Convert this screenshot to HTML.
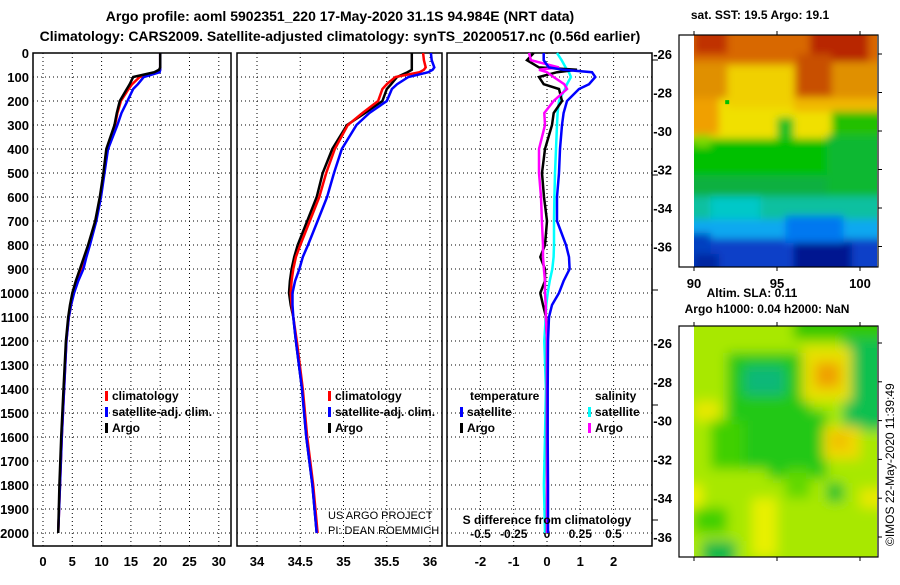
<!DOCTYPE html>
<html><head><meta charset="utf-8"><style>
body{margin:0;background:#fff;width:900px;height:580px;overflow:hidden;font-family:"Liberation Sans",sans-serif}
svg text{font-family:"Liberation Sans",sans-serif;font-weight:bold;font-size:12px}
</style></head><body>
<svg id="c" width="900" height="580" xmlns="http://www.w3.org/2000/svg">
<defs>
<filter id="bl" x="-20%" y="-20%" width="140%" height="140%"><feGaussianBlur stdDeviation="4"/></filter>
<filter id="bl2" x="-20%" y="-20%" width="140%" height="140%"><feGaussianBlur stdDeviation="6"/></filter>
<clipPath id="cm1"><rect x="694" y="35" width="183" height="232"/></clipPath>
<clipPath id="cm2"><rect x="694" y="326" width="183" height="231"/></clipPath>
</defs>
<text x="340" y="21" text-anchor="middle" style="font-size:14px">Argo profile: aoml 5902351_220 17-May-2020 31.1S 94.984E (NRT data)</text>
<text x="340" y="41" text-anchor="middle" style="font-size:14px">Climatology: CARS2009. Satellite-adjusted climatology: synTS_20200517.nc (0.56d earlier)</text>
<g id="g"></g>
</svg>
<script>
// depth levels (m)
const depths=[0,30,60,70,80,100,130,150,200,250,300,400,500,600,700,800,850,900,950,1000,1050,1100,1200,1400,1600,1800,2000];
// temperature (degC)
const tempArgo=[20,20,20,19.8,19,15.4,14.8,14.3,13.1,12.6,12.2,10.8,10.3,9.7,8.9,7.7,7.0,6.3,5.6,5.0,4.6,4.3,3.9,3.5,3.1,2.8,2.6];
const tempClim=[20,20,20,20,19.5,16.5,15.2,14.6,13.3,12.7,12.3,11.0,10.4,9.8,9.0,7.9,7.2,6.6,5.9,5.2,4.8,4.4,4.0,3.6,3.2,2.9,2.6];
const tempSat=[20,20,20,20,19.9,17.2,16.2,15.4,14.4,13.4,12.7,11.1,10.5,9.9,9.1,8.0,7.4,6.9,6.0,5.3,4.8,4.4,4.0,3.6,3.2,2.9,2.6];
// salinity (PSU)
const salArgo=[35.79,35.79,35.79,35.79,35.74,35.62,35.55,35.5,35.45,35.25,35.04,34.87,34.76,34.69,34.58,34.47,34.43,34.40,34.38,34.37,34.39,34.42,34.45,34.52,34.57,34.64,34.69];
const salClim=[35.92,35.93,35.95,35.93,35.88,35.6,35.5,35.45,35.4,35.22,35.05,34.9,34.8,34.72,34.61,34.5,34.45,34.42,34.40,34.39,34.40,34.42,34.46,34.53,34.58,34.65,34.70];
const salSat=[36.01,36.02,36.05,36.03,35.98,35.75,35.62,35.56,35.5,35.3,35.15,34.98,34.89,34.81,34.7,34.59,34.53,34.49,34.44,34.41,34.41,34.42,34.45,34.52,34.57,34.64,34.69];
// differences from climatology
const dTsat=[-0.1,-0.1,0.05,0.5,1.35,1.45,1.26,0.96,0.6,0.5,0.45,0.39,0.36,0.3,0.3,0.57,0.66,0.68,0.5,0.36,0.15,0.06,0.03,0.02,0.02,0.03,0.03];
const dTargo=[-0.4,-0.6,-0.24,0.9,0.3,-0.24,-0.1,0.36,0.45,0.2,0.15,-0.06,-0.15,-0.09,0,-0.06,-0.2,-0.06,-0.06,-0.2,-0.12,-0.03,0,0,0,0,0];
const dSsat=[0.075,0.11,0.14,0.15,0.165,0.18,0.15,0.135,0.09,0.08,0.075,0.068,0.06,0.056,0.053,0.053,0.05,0.04,0.02,0.005,-0.005,-0.01,-0.02,-0.008,-0.015,-0.023,-0.015];
const dSargo=[-0.135,-0.12,0.09,-0.06,0.0,0.05,0.13,0.15,0.05,-0.02,-0.015,-0.06,-0.06,-0.045,-0.038,-0.03,-0.03,-0.023,-0.015,-0.015,-0.01,-0.008,0,0,0,0,0];
const depthTicks=[0,100,200,300,400,500,600,700,800,900,1000,1100,1200,1300,1400,1500,1600,1700,1800,1900,2000];
const tTicks=[0,5,10,15,20,25,30];
const sTicks=[34,34.5,35,35.5,36];
const dTTicks=[-2,-1,0,1,2];
const dSTicks=[-0.5,-0.25,0,0.25,0.5];

const NS='http://www.w3.org/2000/svg';
const G=document.getElementById('g');
function mk(t,a,p){const e=document.createElementNS(NS,t);for(const k in a)e.setAttribute(k,a[k]);(p||G).appendChild(e);return e;}
const Y=d=>53+d*0.24;
const X1=v=>43+v*5.86, X2=v=>257+(v-34)*86.5, X3=v=>547+v*33.3, X3s=v=>547+v*133;
const panels=[[33,231],[237,442],[447,652]];
panels.forEach((p,i)=>{
  const ticksX=i==0?tTicks.map(X1):i==1?sTicks.map(X2):dTTicks.map(X3);
  depthTicks.forEach(d=>{if(d>0){const l=mk('line',{x1:p[0],x2:p[1],y1:Y(d),y2:Y(d),stroke:'#000','stroke-dasharray':'1,3','stroke-width':1});
  
  }});
  ticksX.forEach(x=>{const l=mk('line',{x1:x,x2:x,y1:53,y2:546,stroke:'#000','stroke-dasharray':'1,3'});
  
  });
  const r=mk('rect',{x:p[0],y:53,width:p[1]-p[0],height:493,fill:'none',stroke:'#000','stroke-width':1.5});
  
  
});
depthTicks.forEach(d=>{const t=mk('text',{x:29,y:Y(d)+5,'text-anchor':'end',style:'font-size:13px'});t.textContent=d;

});
function xl(arr,f){arr.forEach(v=>{const t=mk('text',{x:f(v),y:566,'text-anchor':'middle',style:'font-size:13px'});t.textContent=v;

});}
xl(tTicks,X1);xl(sTicks,X2);xl(dTTicks,X3);
dSTicks.forEach(v=>{const t=mk('text',{x:X3s(v),y:538,'text-anchor':'middle'});t.textContent=v;

});
[60,175,290,405,520].forEach(y=>mk('line',{x1:652,x2:658,y1:y,y2:y,stroke:'#000'}));
function line(vals,f,col,name){const pts=vals.map((v,i)=>f(v).toFixed(1)+','+Y(depths[i]).toFixed(1)).join(' ');
const l=mk('polyline',{points:pts,fill:'none',stroke:col,'stroke-width':2.5});

}
line(tempClim,X1,'#f00','temp-climatology-line');line(tempSat,X1,'#00f','temp-satellite-line');line(tempArgo,X1,'#000','temp-argo-line');
line(salArgo,X2,'#000','sal-argo-line');line(salClim,X2,'#f00','sal-climatology-line');line(salSat,X2,'#00f','sal-satellite-line');
line(dSsat,X3s,'#0ff','sdiff-satellite-line');line(dTargo,X3,'#000','tdiff-argo-line');line(dSargo,X3s,'#f0f','sdiff-argo-line');line(dTsat,X3,'#00f','tdiff-satellite-line');
function leg(x,y,col,txt,name){const r=mk('rect',{x:x,y:y-9,width:3,height:10,fill:col});


const t=mk('text',{x:x+7,y:y});t.textContent=txt;

}
[[105],[328]].forEach(([x])=>{leg(x,400,'#f00','climatology','legend-climatology');leg(x,416,'#00f','satellite-adj. clim.','legend-satellite');leg(x,432,'#000','Argo','legend-argo');});
let t=mk('text',{x:470,y:400});t.textContent='temperature';
t=mk('text',{x:595,y:400});t.textContent='salinity';
leg(460,416,'#00f','satellite','legend-t-satellite');leg(460,432,'#000','Argo','legend-t-argo');
leg(588,416,'#0ff','satellite','legend-s-satellite');leg(588,432,'#f0f','Argo','legend-s-argo');
t=mk('text',{x:547,y:524,'text-anchor':'middle'});t.textContent='S difference from climatology';
t=mk('text',{x:328,y:519,style:'font-weight:normal;font-size:11px'});t.textContent='US ARGO PROJECT';
t=mk('text',{x:328,y:534,style:'font-weight:normal;font-size:11px'});t.textContent='PI: DEAN ROEMMICH';

// maps
const LX=lon=>694+(lon-90)*16.6;
const LY1=lat=>54+(-26-lat)*19.25, LY2=lat=>343+(-26-lat)*19.4;
function blobs(list,LY,clip,filt){const gg=mk('g',{'clip-path':'url(#'+clip+')'});const inner=mk('g',{filter:'url(#'+filt+')'},gg);
list.forEach(b=>mk('rect',{x:LX(b[0]),y:LY(b[3]),width:LX(b[1])-LX(b[0]),height:LY(b[2])-LY(b[3]),fill:b[4]},inner));return gg;}
const sst=[[88,102,-38,-24,'#0a40c8'],[88,102,-35.6,-24,'#10a8f0'],[88,102,-34.6,-24,'#10c0a0'],[88,102,-33.4,-24,'#10b040'],[88,102,-32.3,-24,'#00c000'],
[88,102,-30.4,-24,'#f0e000'],[96,102,-29.0,-24,'#f0b800'],[88,91.5,-30.2,-24,'#f0a000'],[88,102,-28.3,-24,'#e09000'],[92,96,-28.8,-26.6,'#f0d000'],
[88,102,-26.4,-24,'#d86800'],[90,92,-26,-24,'#c03000'],[97,100.5,-26.4,-24,'#b82800'],[96.2,98.3,-28.2,-26,'#c85000'],
[98.3,102,-30.2,-29.0,'#20c000'],[98.0,102,-33.4,-30.2,'#10b830'],[95,96,-30.4,-29.3,'#20c020'],[90,91,-30.8,-30.2,'#80d800'],
[91,94,-34.6,-33.4,'#00c8c8'],[95.5,99,-35.8,-34.4,'#0078f0'],[88,91,-36.6,-35.3,'#0040c0'],[96,99.5,-37.5,-35.8,'#001890'],[90,91.5,-38,-36.4,'#0028a0']];
const m1=blobs(sst,LY1,'cm1','bl');
mk('rect',{x:LX(92)-2,y:LY1(-28.5)-2,width:4,height:4,fill:'#00c000'});
const sla=[[88,102,-38,-24,'#a8e800'],[92,97,-32.5,-26.5,'#20c818'],[93,95.5,-28.7,-27.2,'#10b878'],[94.5,98,-33,-29.5,'#20c818'],[99,102,-30.5,-25.8,'#10c050'],
[96.5,99.5,-29,-26.2,'#e8e000'],[97.3,98.8,-28.3,-27,'#f0a000'],[97.8,100,-32,-30.3,'#f0d800'],[98.3,99.2,-31.4,-30.7,'#f0b800'],
[90,92,-35.8,-34.5,'#40d000'],[90.5,92.5,-37.5,-36.2,'#10b848'],[93.5,95,-37,-34,'#e8f000'],[90,91.5,-30,-29,'#e8e800'],[91,93,-32.5,-30,'#40d000'],[98,99,-34.2,-33.2,'#10c030'],[88,90.5,-34.5,-33.3,'#f0f000'],[95.5,97,-34,-32.5,'#60d800'],[100,102,-34.5,-33.5,'#e8e800'],[96,102,-25.8,-24,'#30c800']];
const m2=blobs(sla,LY2,'cm2','bl2');
[[35,267,LY1,'sst'],[326,557,LY2,'sla']].forEach(([y0,y1,LY,n])=>{
  const f=mk('rect',{x:679,y:y0,width:199,height:y1-y0,fill:'none',stroke:'#000','stroke-width':1.2});
  
  
  [-26,-28,-30,-32,-34,-36].forEach(l=>{const t=mk('text',{x:672,y:LY(l)+5,'text-anchor':'end',style:'font-size:13px'});t.textContent=l;
  
  
  mk('line',{x1:878,x2:882,y1:LY(l),y2:LY(l),stroke:'#000'});});
  [90,95,100].forEach(l=>{mk('line',{x1:LX(l),x2:LX(l),y1:y1,y2:y1+4,stroke:'#000'});mk('line',{x1:LX(l),x2:LX(l),y1:y0-4,y2:y0,stroke:'#000'});});
});
[90,95,100].forEach(l=>{const t=mk('text',{x:LX(l),y:288,'text-anchor':'middle',style:'font-size:13px'});t.textContent=l;

});
t=mk('text',{x:760,y:19,'text-anchor':'middle'});t.textContent='sat. SST: 19.5 Argo: 19.1';
t=mk('text',{x:752,y:297,'text-anchor':'middle'});t.textContent='Altim. SLA: 0.11';
t=mk('text',{x:767,y:313,'text-anchor':'middle'});t.textContent='Argo h1000: 0.04 h2000: NaN';
t=mk('text',{x:0,y:0,transform:'translate(894,546) rotate(-90)',style:'font-weight:normal;font-size:12px'});t.textContent='©IMOS 22-May-2020 11:39:49';
</script>
</body></html>
